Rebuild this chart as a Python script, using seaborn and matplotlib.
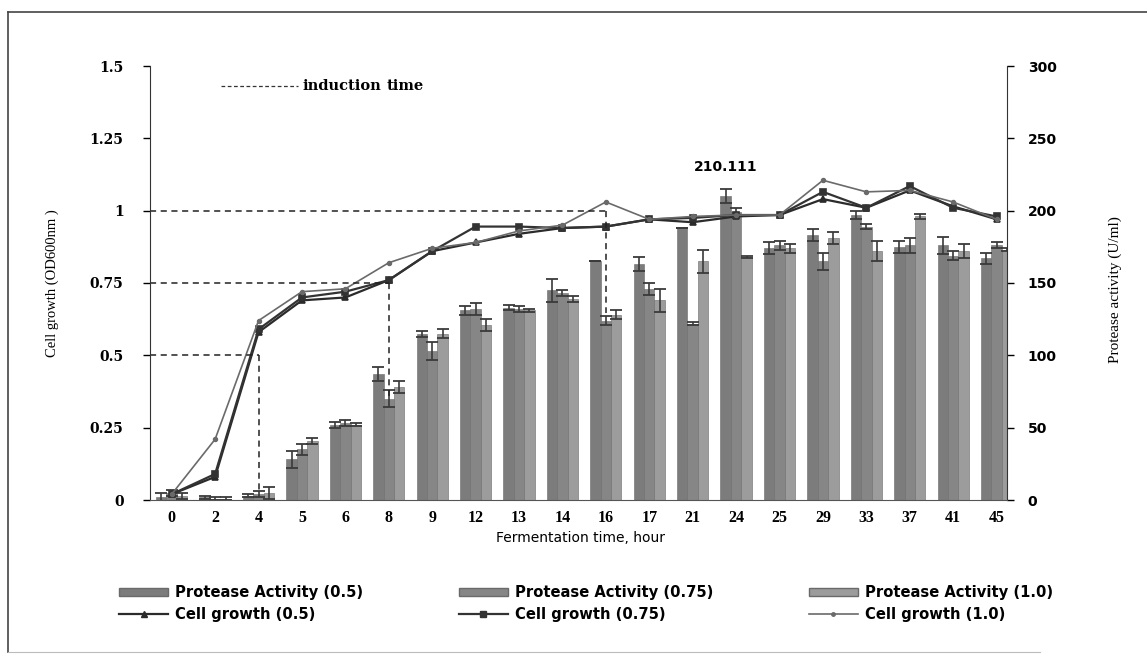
import matplotlib
matplotlib.use("Agg")
import matplotlib.pyplot as plt
import seaborn as sns
import pandas as pd
from matplotlib.patches import Patch
from matplotlib.lines import Line2D

# Data
hours = ['0', '2', '4', '5', '6', '8', '9', '12', '13', '14',
         '16', '17', '21', '24', '25', '29', '33', '37', '41', '45']
concs = ['0.5', '0.75', '1.0']

# protease activity (U/ml)
act_05 = [2, 2, 3, 28, 52, 87, 115, 131, 133, 145, 165, 163, 188, 210.111, 174, 183, 197, 175, 176, 167]
act_075 = [5, 1, 4, 35, 53, 70, 103, 132, 132, 143, 124, 146, 122, 199, 176, 165, 189, 176, 169, 176]
act_10 = [3, 1, 5, 41, 52, 78, 115, 121, 131, 139, 128, 138, 165, 168, 174, 181, 172, 196, 172, 173]
err_05 = [3, 1, 1, 6, 2, 5, 2, 3, 2, 8, 0, 5, 0, 5, 4, 4, 3, 4, 6, 4]
err_075 = [2, 1, 2, 4, 2, 6, 6, 4, 2, 2, 3, 4, 1, 3, 3, 6, 2, 5, 3, 2]
err_10 = [2, 1, 4, 2, 1, 4, 3, 4, 1, 2, 3, 8, 8, 1, 3, 4, 7, 2, 5, 1]

# cell growth (OD600)
od_05 = [0.02, 0.08, 0.58, 0.69, 0.70, 0.76, 0.86, 0.89, 0.92, 0.94, 0.945, 0.97, 0.96, 0.98, 0.985, 1.04, 1.01, 1.07, 1.015, 0.97]
od_075 = [0.02, 0.09, 0.59, 0.70, 0.72, 0.76, 0.86, 0.945, 0.945, 0.94, 0.945, 0.97, 0.975, 0.985, 0.985, 1.065, 1.01, 1.085, 1.01, 0.98]
od_10 = [0.02, 0.21, 0.62, 0.72, 0.73, 0.82, 0.87, 0.89, 0.93, 0.95, 1.03, 0.97, 0.98, 0.985, 0.985, 1.105, 1.065, 1.07, 1.03, 0.97]

# induction time marks
ind_hours = ['4', '8', '16']
ind_od = [0.5, 0.75, 1.0]
ind_low = [0.02, 0.36, 0.645]

bar_colors = ['#7c7c7c', '#868686', '#9c9c9c']
line_colors = ['#2b2b2b', '#333333', '#6a6a6a']

act_df = pd.DataFrame({
    'hour': hours * 3,
    'activity': act_05 + act_075 + act_10,
    'conc': [c for c in concs for _ in hours],
})

sans = ['DejaVu Sans']
serif = ['Liberation Serif', 'DejaVu Serif']
wide_serif = ['DejaVu Serif']

fig = plt.figure(figsize=(11.47, 6.59), dpi=100)
ax = fig.add_axes([150 / 1147, 1 - 500 / 659, (1007 - 150) / 1147, (500 - 66) / 659])
ax2 = ax.twinx()

# bars on right axis
sns.barplot(data=act_df, x='hour', y='activity', hue='conc', order=hours, hue_order=concs,
            palette=bar_colors, width=0.72, errorbar=None, saturation=1, legend=False,
            edgecolor='#6a6a6a', linewidth=0.4, ax=ax2)
for cont, err in zip(ax2.containers, [err_05, err_075, err_10]):
    xs = [p.get_x() + p.get_width() / 2 for p in cont]
    ys = [p.get_height() for p in cont]
    ax2.errorbar(xs, ys, yerr=err, fmt='none', ecolor='#3a3a3a', elinewidth=1.2,
                 capsize=4, capthick=1.3)

# label on the peak bar
peak = ax2.containers[0][hours.index('24')]
ax2.text(peak.get_x() + peak.get_width() / 2, peak.get_height() + 15, '210.111',
         ha='center', va='bottom', fontsize=10, fontweight='bold', family=sans)

# growth lines on left axis
for od, mk, col, lw, ms in zip([od_05, od_075, od_10], ['^', 's', 'o'], line_colors,
                               [1.6, 1.6, 1.2], [5, 4.5, 3]):
    sns.pointplot(x=hours, y=od, order=hours, color=col, markers=mk, linestyles='-',
                  errorbar=None, linewidth=lw, markersize=ms, ax=ax)

# induction time dashed guides
for h, od, low in zip(ind_hours, ind_od, ind_low):
    xi = hours.index(h)
    ax.plot([-0.5, xi], [od, od], ls=(0, (4, 3)), color='#222222', lw=1.1)
    ax.plot([xi, xi], [od, low], ls=(0, (4, 3)), color='#222222', lw=1.1)

ax.set_zorder(ax2.get_zorder() + 1)
ax.patch.set_visible(False)

ax.set_xlim(-0.5, len(hours) - 0.76)
ax.set_ylim(0, 1.5)
ax2.set_ylim(0, 300)
ax.set_yticks([0, 0.25, 0.5, 0.75, 1, 1.25, 1.5])
ax.set_yticklabels(['0', '0.25', '0.5', '0.75', '1', '1.25', '1.5'], family=wide_serif,
                   fontsize=10, fontweight='bold')
ax2.set_yticks(range(0, 301, 50))
ax2.set_yticklabels([str(v) for v in range(0, 301, 50)], family=sans, fontsize=10,
                    fontweight='bold')
ax.set_xticks(range(len(hours)))
ax.set_xticklabels(hours, family=serif, fontsize=11.5, fontweight='bold')
ax.tick_params(axis='x', length=0, pad=7)
ax.tick_params(axis='y', length=5, width=1, pad=14, direction='out')
ax2.tick_params(axis='y', length=5, width=1, pad=10, direction='out')
ax.set_xlabel('')
ax.set_ylabel('')
ax2.set_xlabel('')
ax2.set_ylabel('')

for s in ['top', 'right']:
    ax.spines[s].set_visible(False)
for s in ['top', 'left', 'bottom']:
    ax2.spines[s].set_visible(False)
ax.spines['left'].set_color('#333333')
ax.spines['bottom'].set_color('#555555')
ax2.spines['right'].set_color('#333333')

# axis titles
fig.text(52 / 1147, 1 - 283 / 659, 'Cell growth (OD600nm )', rotation=90, ha='center',
         va='center', fontsize=10.5, family=serif)
fig.text(1115 / 1147, 1 - 290 / 659, 'Protease activity (U/ml)', rotation=90, ha='center',
         va='center', fontsize=11, family=serif)
fig.text(580 / 1147, 1 - 538 / 659, 'Fermentation time, hour', ha='center', va='center',
         fontsize=10, family=sans)

# induction time key
ax.plot([0.083, 0.173], [0.954, 0.954], transform=ax.transAxes, ls=(0, (3, 2)),
        color='#333333', lw=0.9)
t1 = ax.text(0.178, 0.954, 'induction', transform=ax.transAxes, va='center', fontsize=10.5,
             fontweight='bold', family=wide_serif)
ax.annotate('time', xy=(1, 0.5), xycoords=t1, xytext=(4, 0), textcoords='offset points',
            va='center', fontsize=10.5, fontweight='bold', family=wide_serif)

# legend
handles = [
    Patch(facecolor=bar_colors[0], edgecolor='#6a6a6a'),
    Line2D([], [], color=line_colors[0], marker='^', markersize=5, lw=1.6),
    Patch(facecolor=bar_colors[1], edgecolor='#6a6a6a'),
    Line2D([], [], color=line_colors[1], marker='s', markersize=4, lw=1.6),
    Patch(facecolor=bar_colors[2], edgecolor='#6a6a6a'),
    Line2D([], [], color=line_colors[2], marker='o', markersize=2.5, lw=1.2),
]
labels = ['Protease Activity (0.5)', 'Cell growth (0.5)',
          'Protease Activity (0.75)', 'Cell growth (0.75)',
          'Protease Activity (1.0)', 'Cell growth (1.0)']
fig.legend(handles, labels, ncol=3, loc='upper left', bbox_to_anchor=(106 / 1147, 1 - 572 / 659),
           frameon=False, handlelength=3.3, handleheight=0.55, columnspacing=6.5,
           handletextpad=0.5, labelspacing=0.45,
           prop={'family': sans, 'weight': 'bold', 'size': 10.6})

# page frame
fig.add_artist(Line2D([8 / 1147, 1], [1 - 12 / 659, 1 - 12 / 659], transform=fig.transFigure,
                      color='#444444', lw=1.2))
fig.add_artist(Line2D([8 / 1147, 8 / 1147], [1 - 12 / 659, 1 - 652 / 659],
                      transform=fig.transFigure, color='#444444', lw=1.2))
fig.add_artist(Line2D([8 / 1147, 1040 / 1147], [1 - 652 / 659, 1 - 652 / 659],
                      transform=fig.transFigure, color='#bbbbbb', lw=0.8))

plt.savefig('out.png', dpi=100)
